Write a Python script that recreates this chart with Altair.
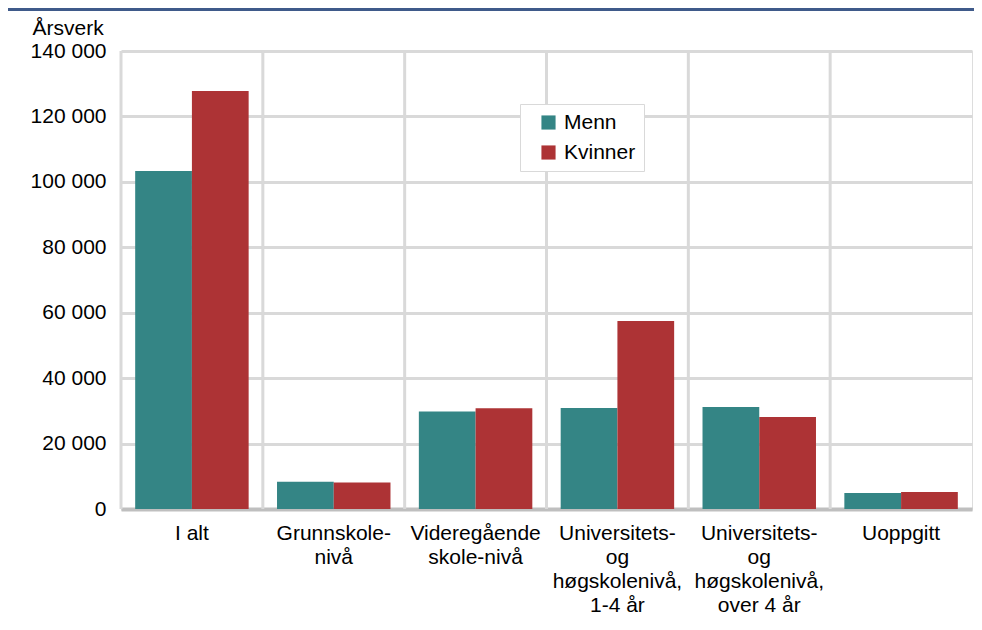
import altair as alt
import pandas as pd

categories = [
    "I alt",
    "Grunnskole-|nivå",
    "Videregående|skole-nivå",
    "Universitets-|og|høgskolenivå,|1-4 år",
    "Universitets-|og|høgskolenivå,|over 4 år",
    "Uoppgitt",
]
series = ["Menn", "Kvinner"]
menn = [103300, 8300, 29800, 30900, 31200, 4900]
kvinner = [127800, 8100, 30800, 57500, 28100, 5200]
colors = ["#348585", "#ad3335"]
y_ticks = [0, 20000, 40000, 60000, 80000, 100000, 120000, 140000]

rows = []
for c, m, k in zip(categories, menn, kvinner):
    rows.append({"cat": c, "serie": "Menn", "val": m})
    rows.append({"cat": c, "serie": "Kvinner", "val": k})
df = pd.DataFrame(rows)
cat_df = pd.DataFrame({"cat": categories})

FONT = "Liberation Sans"
FS = 21
W, H = 851, 458
PAD = {"left": 113, "top": 43, "right": 2, "bottom": 108}

x_scale = alt.Scale(domain=categories, paddingInner=0, paddingOuter=0)
x_axis = alt.Axis(
    title=None,
    labelExpr="split(datum.label, '|')",
    labelAngle=0,
    labelFontSize=FS,
    labelLineHeight=24,
    labelPadding=13,
    labelColor="#000000",
    labelFont=FONT,
    ticks=False,
    grid=False,
    domainColor="#bfbfbf",
    domainWidth=4,
)

grid_v = alt.Chart(cat_df).mark_rule(color="#d9d9d9", strokeWidth=3).encode(
    x=alt.X("cat:N", bandPosition=0, scale=x_scale, sort=categories, axis=x_axis)
)

bars = alt.Chart(df).mark_bar().encode(
    x=alt.X("cat:N", scale=x_scale, sort=categories, axis=x_axis),
    xOffset=alt.XOffset("serie:N", sort=series,
                        scale=alt.Scale(domain=series, paddingInner=0, paddingOuter=0.25)),
    y=alt.Y("val:Q",
            scale=alt.Scale(domain=[0, 140000], nice=False, zero=True),
            axis=alt.Axis(
                title="Årsverk",
                titleAngle=0,
                titleAlign="left",
                titleBaseline="alphabetic",
                titleX=-89,
                titleY=-17,
                titleFontSize=FS,
                titleFontWeight="normal",
                titleFont=FONT,
                titleColor="#000000",
                values=y_ticks,
                labelExpr="replace(format(datum.value, ','), ',', ' ')",
                labelFontSize=FS,
                labelFont=FONT,
                labelColor="#000000",
                labelPadding=15,
                ticks=False,
                domain=False,
                grid=True,
                gridColor="#d9d9d9",
                gridWidth=3,
            )),
    color=alt.Color("serie:N", sort=series,
                    scale=alt.Scale(domain=series, range=colors),
                    legend=alt.Legend(
                        title=None,
                        orient="none",
                        legendX=399,
                        legendY=53,
                        symbolType="square",
                        symbolSize=200,
                        symbolStrokeWidth=0,
                        symbolOffset=10,
                        labelFontSize=FS,
                        labelFont=FONT,
                        labelColor="#000000",
                        labelOffset=5,
                        rowPadding=8,
                        padding=8,
                        strokeColor="#d9d9d9",
                        fillColor="#ffffff",
                    )),
)

top_line = alt.Chart(cat_df).mark_rule(color="#3f5a8a", strokeWidth=3).encode(
    x=alt.value(-113), x2=alt.value(W + 2), y=alt.value(-41.5)
)

chart = alt.layer(grid_v, bars, top_line).properties(
    width=W, height=H, padding=PAD,
    autosize=alt.AutoSizeParams(type="none"),
).configure_view(
    stroke="#d9d9d9", strokeWidth=3
).configure(font=FONT)

chart.save("out.html", embed_options={"renderer": "svg", "actions": False})
